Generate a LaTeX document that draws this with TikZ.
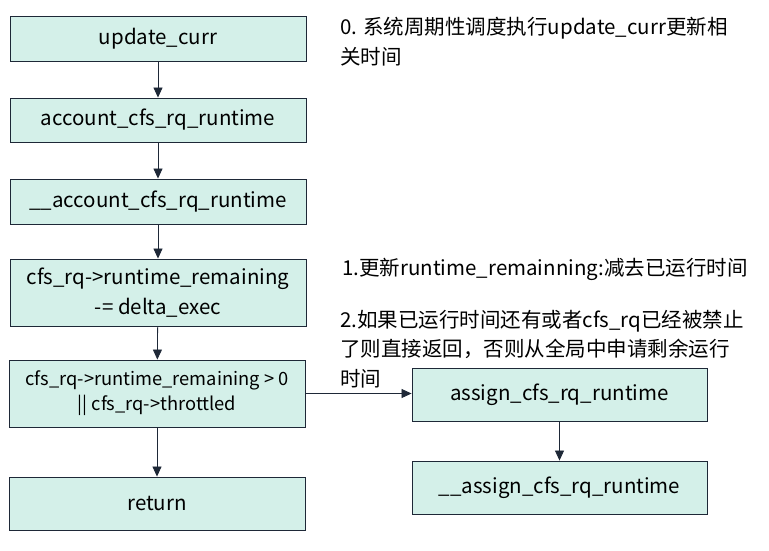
\documentclass[tikz,border=0pt]{standalone}
\usepackage{fontspec}
\setmainfont{Noto Sans CJK SC}
\usetikzlibrary{arrows.meta}
\definecolor{boxfill}{RGB}{212,240,233}
\definecolor{boxline}{RGB}{30,40,55}
\tikzset{
  stepbox/.style={draw=boxline, fill=boxfill, line width=0.9pt, minimum width=296pt,
    minimum height=45pt, align=center, inner sep=0pt,
    font=\fontsize{20.5}{30}\selectfont},
  note/.style={anchor=base west, align=left, inner sep=0pt,
    font=\fontsize{20.5}{29.5}\selectfont},
}
\begin{document}
\begin{tikzpicture}[x=1pt,y=-1pt]
      \useasboundingbox (0,0) rectangle (769,550);
      \draw
        (158,38.5) node[stepbox] (upd){update\_curr}
        (158,120) node[stepbox, minimum height=44pt] (acct){account\_cfs\_rq\_runtime}
        (158,201.5) node[stepbox] (acct2){\_\_account\_cfs\_rq\_runtime}
        (158,292.5) node[stepbox, minimum height=67pt] (remain){cfs\_rq->runtime\_remaining\\-= delta\_exec}
        (157,393.5) node[stepbox, minimum height=67pt, font=\fontsize{18.3}{25}\selectfont] (check){cfs\_rq->runtime\_remaining > 0\\|| cfs\_rq->throttled}
        (157,503.5) node[stepbox, minimum height=53pt] (ret){return}
        (559.5,394.5) node[stepbox, minimum width=295pt, minimum height=53pt] (assign){assign\_cfs\_rq\_runtime}
        (559.5,487.5) node[stepbox, minimum width=295pt, minimum height=53pt] (assign2){\_\_assign\_cfs\_rq\_runtime};
      % base anchor sits on the last line
      \node[note] (note0) at (340,64) {0. 系统周期性调度执行update\_curr更新相\\关时间};
      \node[note] (note1) at (342,275) {1.更新runtime\_remainning:减去已运行时间};
      \node[note] (note2) at (340,386) {2.如果已运行时间还有或者cfs\_rq已经被禁止\\了则直接返回，否则从全局中申请剩余运行\\时间};
      \begin{scope}[-{Triangle[length=10pt,width=9pt]}, draw=boxline, line width=0.8pt]
        \draw (upd) to (acct);
        \draw (acct) to (acct2);
        \draw (acct2) to (remain);
        \draw (remain) to (check);
        \draw (check) to (ret);
        \draw (check.east) to (assign.west |- check.east);
        \draw (assign) to (assign2);
      \end{scope}
    \end{tikzpicture}
\end{document}
